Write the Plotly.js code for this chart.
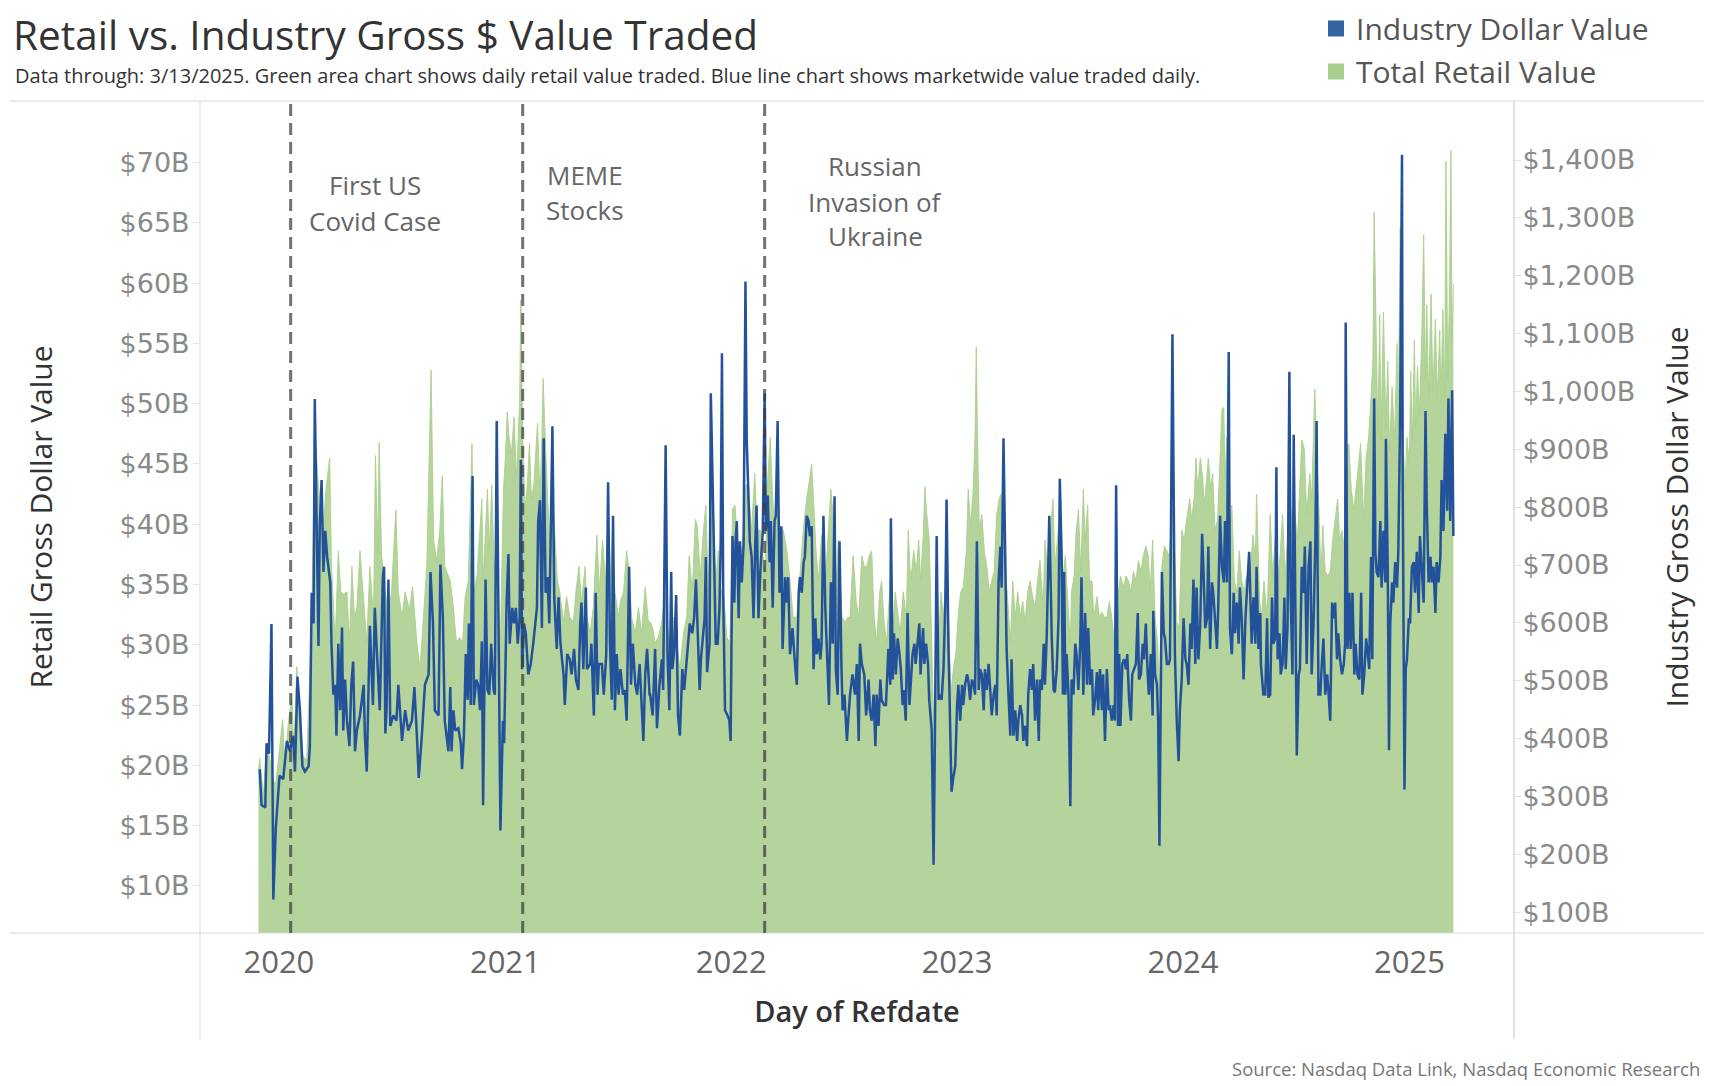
<!DOCTYPE html>
<html>
<head>
<meta charset="utf-8">
<script src="https://cdn.plot.ly/plotly-3.0.1.min.js"></script>
<style>
  html, body { margin: 0; padding: 0; background: #ffffff; }
  #chart { width: 1710px; height: 1086px; }
</style>
</head>
<body>
<div id="chart"></div>
<script>
// ---------------- DATA ----------------
// Day offsets are days since 2020-01-01; values in $ billions.
const DAY0 = Date.UTC(2020, 0, 1);

// Industry (marketwide) gross dollar value traded, $B  -> blue line, right axis
const industryDays = [
-31,-28,-22,-20,-16,-12,-9,-5,1,7,13,18,23,26,30,34,38,42,48,50,53,56,58,61,64,66,69,72,75,78,83,85,88,91,93,96,99,102,104,107,110,114,117,120,123,126,131,137,139,142,147,152,155,159,163,168,170,172,174,177,180,185,190,193,199,204,209,215,219,223,226,231,236,242,245,249,252,258,261,265,268,274,
277,279,282,285,290,294,296,299,302,305,307,310,313,315,319,322,325,328,330,334,337,340,343,347,349,352,355,358,362,364,368,371,373,377,380,383,386,389,391,393,396,399,403,407,411,414,417,419,422,425,428,431,434,437,440,442,445,449,452,455,460,462,466,470,473,477,480,484,487,489,492,496,498,503,505,509,512,515,517,522,525,529,532,535,538,540,543,546,549,552,556,559,562,566,569,572,576,579,583,586,589,592,595,599,
600,604,608,611,615,619,621,625,628,631,634,636,639,642,645,648,652,655,658,662,664,668,671,674,676,680,682,685,688,690,692,696,698,701,704,706,709,712,714,716,718,721,725,728,730,733,736,738,740,743,745,748,751,754,756,759,761,764,767,770,772,775,778,782,785,787,790,793,795,798,801,803,806,809,812,814,818,821,823,826,830,834,837,840,842,845,848,850,853,856,858,861,864,867,869,872,875,877,880,883,885,889,892,895,898,900,903,906,909,911,914,918,920,
923,927,931,934,937,939,942,946,949,953,955,958,961,964,966,969,972,974,978,981,985,988,989,992,994,997,1000,1003,1005,1008,1010,1013,1016,1019,1021,1024,1027,1029,1032,1035,1037,1041,1043,1046,1049,1051,1055,1058,1060,1063,1066,1069,1071,1074,1077,1079,1082,1085,1087,1090,1093,1096,1098,1101,1104,1106,1109,1112,1114,1117,1120,1123,1125,1128,1131,1133,1136,1139,1141,1144,1147,1149,1152,1155,1158,1160,1163,1166,1168,1171,1174,1176,1179,1182,1184,1187,1190,1193,1195,1198,1201,1203,1206,1209,1211,1214,1217,1219,1222,1225,1228,1230,1233,1236,1238,1241,1245,
1249,1252,1254,1257,1260,1262,1265,1267,1269,1271,1273,1276,1279,1281,1284,1287,1289,1292,1295,1297,1300,1303,1306,1308,1311,1314,1316,1319,1322,1324,1327,1330,1332,1335,1338,1341,1343,1346,1349,1351,1353,1356,1358,1360,1363,1366,1369,1371,1374,1377,1379,1382,1385,1388,1390,1393,1396,1398,1401,1404,1406,1409,1412,1413,1416,1419,1421,1423,1425,1427,1430,1432,1435,1438,1440,1444,1446,1448,1451,1454,1456,1459,1462,1465,1467,1470,1473,1475,1478,1481,1483,1486,1489,1492,1494,1497,1500,1502,1505,1508,1510,1513,1516,1518,1521,1524,1527,1529,1532,1535,1537,1540,1543,1545,1548,1551,1553,1556,1559,1562,1564,1568,
1572,1575,1578,1580,1583,1586,1587,1589,1591,1594,1597,1599,1602,1605,1607,1610,1612,1614,1617,1619,1622,1625,1627,1630,1633,1635,1638,1640,1643,1645,1648,1650,1653,1656,1658,1661,1664,1667,1669,1672,1675,1677,1680,1683,1685,1688,1691,1694,1696,1699,1702,1704,1707,1710,1712,1715,1718,1721,1723,1724,1727,1730,1732,1735,1738,1740,1743,1746,1749,1751,1754,1757,1759,1762,1765,1767,1770,1772,1774,1777,1780,1782,1785,1788,1789,1792,1794,1796,1799,1801,1804,1807,1809,1812,1815,1816,1819,1821,1823,1826,1828,1831,1834,1836,1839,1842,1844,1847,1850,1853,1855,1858,1861,1863,1866,1869,1871,1874,1877,1879,1882,1885,1888,1890,1893,1896,1898
];
const industryValues = [
347,285,281,392,374,598,122,246,336,330,396,378,405,343,507,449,352,343,352,387,652,599,987,767,560,767,847,688,759,714,670,564,476,493,405,564,449,592,414,502,431,387,493,533,378,414,440,493,405,343,595,458,626,537,449,679,697,409,449,675,422,440,431,493,396,449,414,431,489,405,332,405,493,511,688,599,449,440,701,608,431,378,
489,378,449,414,418,392,347,405,546,467,599,458,854,458,502,493,449,568,285,675,484,476,564,484,476,949,564,241,431,392,635,719,564,626,599,626,564,608,882,520,599,582,511,529,564,591,626,776,812,591,919,652,679,599,829,940,644,555,644,564,511,458,546,537,511,555,502,484,599,635,520,661,520,529,564,440,652,476,529,529,476,546,843,564,467,785,449,546,476,520,476,484,431,697,493,564,493,476,529,449,396,511,555,476,
476,440,555,418,493,537,484,907,546,449,688,520,555,648,440,405,520,484,520,564,599,582,608,675,599,484,537,573,608,714,515,564,997,838,652,564,564,626,741,1066,652,449,440,431,396,750,635,741,776,608,741,670,736,1190,918,794,741,714,608,741,803,608,688,759,997,759,820,705,776,626,776,785,949,652,767,555,679,635,679,546,591,529,493,652,679,652,705,714,785,776,750,767,520,608,546,573,537,564,785,626,564,458,670,564,819,520,476,741,529,449,476,396,431,
476,511,476,529,396,564,529,511,440,502,449,431,476,387,476,422,502,467,458,458,555,493,781,502,582,511,573,546,520,458,484,431,617,458,493,546,564,529,564,599,511,591,529,564,529,467,414,182,387,750,467,476,467,520,635,813,564,369,308,334,352,458,493,431,493,458,493,511,502,467,502,493,476,741,484,520,511,449,520,484,529,493,440,476,493,440,670,732,661,919,652,555,476,405,537,405,449,396,431,458,440,396,422,387,476,520,484,529,431,502,396,502,484,564,493,582,785,
573,484,480,520,608,849,714,476,688,476,546,476,283,502,476,564,546,484,564,679,476,617,493,591,493,520,440,467,515,449,520,449,511,396,520,449,458,431,458,431,838,422,546,422,529,537,520,546,467,431,511,520,529,617,502,511,564,537,599,511,476,546,440,621,511,493,431,215,431,688,582,573,529,529,537,1099,829,546,431,361,449,502,608,537,529,493,599,555,675,529,661,537,599,754,697,591,608,732,555,670,652,599,555,626,785,697,670,776,670,1068,591,546,652,582,635,564,661,608,502,608,644,723,
564,644,564,697,555,617,529,493,476,476,608,471,476,644,564,573,869,537,582,511,529,644,520,591,1034,652,511,925,564,371,511,520,697,652,732,529,697,741,511,599,741,949,476,476,520,573,476,511,484,431,635,608,635,537,582,537,511,529,564,1119,555,652,555,652,511,564,511,502,652,476,511,573,555,520,714,537,988,723,688,679,776,661,759,670,918,688,380,599,670,635,705,661,723,953,1409,874,312,520,537,608,599,697,705,652,723,617,750,697,635,966,803,670,714,670,697,617,705,670,714,847,759,927,794,988,776,1002,750
];

// Total retail gross dollar value traded, $B -> green area, left axis
const retailDays = [
-33,-31,-25,-20,-14,-9,-5,1,6,10,15,21,24,29,34,39,45,49,53,56,59,63,66,71,76,82,85,91,96,100,104,110,114,118,122,126,131,137,142,147,153,156,160,162,166,172,177,182,189,193,199,204,211,216,223,228,234,239,246,250,255,260,264,268,274,
277,282,287,292,297,301,306,312,315,320,324,328,330,334,337,340,344,348,352,357,363,366,369,372,376,380,384,389,391,394,398,401,405,408,412,418,422,425,427,431,434,438,442,446,450,454,460,465,470,476,480,485,489,495,498,503,508,514,518,523,528,532,535,539,543,549,552,557,562,566,570,576,581,586,592,597,
600,604,608,613,619,624,628,632,638,643,648,654,659,663,668,673,676,681,686,690,694,698,702,706,710,714,718,724,729,733,737,741,745,751,755,759,764,769,773,778,782,786,789,794,798,802,806,810,815,821,826,831,837,842,848,853,857,861,864,868,872,877,883,888,892,896,900,904,910,915,920,
923,928,933,937,942,946,950,954,958,962,966,971,974,978,982,988,992,996,1000,1004,1009,1014,1017,1021,1026,1030,1034,1037,1041,1044,1047,1051,1055,1058,1062,1066,1070,1074,1078,1082,1086,1090,1094,1098,1102,1106,1111,1114,1118,1122,1125,1127,1129,1132,1136,1140,1144,1148,1152,1156,1160,1164,1167,1170,1174,1177,1182,1186,1190,1194,1198,1202,1206,1210,1214,1218,1222,1226,1230,1235,1238,1244,
1246,1251,1254,1258,1262,1267,1271,1274,1279,1281,1285,1288,1292,1296,1300,1303,1307,1310,1314,1317,1322,1326,1330,1334,1338,1342,1346,1350,1353,1357,1360,1365,1369,1373,1377,1381,1385,1389,1393,1397,1401,1405,1408,1412,1416,1420,1423,1427,1431,1435,1439,1444,1447,1451,1455,1459,1463,1467,1472,1475,1479,1482,1485,1489,1493,1495,1498,1502,1506,1509,1513,1517,1521,1524,1527,1529,1532,1535,1537,1540,1544,1548,1552,1556,1560,1564,1568,
1574,1578,1580,1585,1588,1592,1597,1602,1606,1610,1614,1618,1622,1626,1630,1634,1639,1642,1646,1650,1653,1657,1661,1666,1669,1674,1677,1681,1684,1687,1691,1695,1699,1703,1707,1711,1714,1718,1722,1726,1729,1733,1737,1741,1745,1748,1753,1757,1761,1765,1768,1770,1773,1776,1779,1781,1785,1789,1792,1795,1799,1803,1807,1809,1812,1815,1817,1820,1823,1827,1829,1832,1835,1837,1840,1843,1847,1850,1853,1855,1858,1862,1865,1869,1872,1876,1878,1881,1884,1886,1889,1892,1894,1896,1898
];
const retailValues = [
19.5,20.6,17.4,21.6,20.4,18.7,18.5,21.6,23.8,19.9,23.4,25.9,21.2,28.2,23.8,20.8,20.4,26.3,32.3,40.8,47.2,43.8,42.1,38.7,42.9,45.5,36.5,30.2,37.8,34.4,34.2,34.4,30.2,36.5,32.3,33.1,37.8,33.6,30.2,36.5,32.3,45.7,37.8,46.8,37.4,34.4,32.3,34.4,41.2,34.4,32.3,34.4,32.9,34.8,30.2,28.0,32.3,36.5,52.8,38.7,37.0,39.5,44.0,36.5,35.7,
35.3,33.1,30.2,30.6,30.2,34.0,35.3,46.7,34.4,35.7,39.1,42.1,35.3,39.5,42.9,37.8,43.3,36.1,38.7,28.0,42.9,45.5,49.3,47.2,45.9,48.9,43.8,50.1,58.6,47.2,41.2,42.9,46.7,42.1,43.3,48.4,42.1,47.2,52.1,46.3,42.1,37.8,42.9,38.7,35.3,34.4,31.9,34.0,32.3,31.9,34.4,36.5,33.6,36.5,32.3,31.0,33.1,39.1,34.4,38.7,35.3,40.4,35.3,39.5,34.4,32.3,33.6,34.4,37.8,36.1,32.3,31.0,33.1,31.0,34.8,31.9,
31.9,31.4,30.2,30.6,31.9,34.4,31.4,30.2,32.3,30.2,28.0,31.0,32.3,37.4,34.4,40.4,39.9,35.7,39.5,41.6,34.4,42.9,41.2,35.3,37.8,34.4,34.8,30.6,30.2,41.2,41.6,38.7,36.5,39.5,43.3,42.9,39.5,44.2,39.5,39.5,37.8,35.7,42.9,47.2,42.1,39.5,42.9,37.4,39.5,37.8,35.3,32.3,32.3,35.7,39.9,42.1,43.8,45.0,42.1,37.8,35.3,39.1,35.3,39.5,42.9,40.4,34.4,38.7,32.3,31.9,32.3,
32.3,37.4,33.6,32.3,37.4,36.5,36.5,37.4,37.8,32.3,30.2,34.4,35.3,31.9,30.2,35.3,31.0,34.4,32.7,31.0,34.4,32.3,39.5,35.3,37.8,36.1,38.7,35.3,38.7,43.1,40.8,38.7,30.2,23.8,28.0,30.2,34.4,32.3,36.1,32.3,25.9,28.0,29.3,32.7,34.4,34.8,37.8,42.9,39.9,42.9,47.2,54.7,47.2,39.5,40.8,37.8,36.5,34.4,35.3,36.1,40.8,42.1,42.5,39.5,35.7,34.4,30.2,35.3,32.3,34.4,32.3,33.6,31.9,34.4,35.3,34.0,33.1,35.3,37.0,33.1,38.7,35.3,
38.7,42.1,36.5,38.7,40.8,35.7,37.4,34.4,30.2,34.4,35.7,39.1,41.2,36.1,42.9,38.7,41.6,35.3,35.3,32.3,34.0,32.3,32.7,32.3,32.3,33.6,32.3,30.2,34.8,34.4,35.7,34.8,35.7,35.3,34.4,36.1,35.3,37.0,36.1,37.4,38.2,37.4,34.4,38.7,32.3,30.2,25.9,36.5,38.2,37.8,37.4,41.2,38.7,31.9,31.4,39.5,38.7,40.4,42.1,40.4,42.1,45.5,42.9,45.5,43.8,41.6,42.9,45.5,42.9,44.2,39.5,40.4,46.3,49.5,49.7,43.8,47.2,42.9,39.9,41.6,35.3,34.4,37.8,35.3,34.4,35.7,34.4,
39.1,37.4,42.5,33.6,32.3,35.3,32.3,40.8,35.7,38.7,35.3,37.4,40.8,35.7,38.7,42.9,37.4,40.8,38.7,43.8,47.0,46.3,40.8,44.2,42.1,51.2,47.2,40.8,35.7,39.9,36.1,35.7,36.1,38.7,40.4,42.1,38.7,39.5,37.8,46.3,46.7,42.9,41.2,42.9,45.0,46.7,40.4,45.5,47.2,50.6,53.5,65.9,56.5,47.5,57.4,47.0,57.6,48.0,53.5,46.0,51.4,47.0,55.0,48.0,64.6,59.9,47.0,42.9,47.2,45.0,52.7,47.0,55.3,48.0,53.1,49.0,55.7,64.0,52.0,58.2,50.5,59.1,51.0,57.0,50.5,56.1,50.0,57.8,50.5,70.1,52.0,59.9,71.0,55.0,59.9
];

// Axis ticks
const yearTicks  = ['2020-01-01','2021-01-01','2022-01-01','2023-01-01','2024-01-01','2025-01-01'];
const yearLabels = ['2020','2021','2022','2023','2024','2025'];
const retailTicks   = [10,15,20,25,30,35,40,45,50,55,60,65,70];
const industryTicks = [100,200,300,400,500,600,700,800,900,1000,1100,1200,1300,1400];

// Events (reference lines)
const eventDates  = ['2020-01-20','2021-01-29','2022-02-24'];
const eventLabels = [['First US','Covid Case'],['MEME','Stocks'],['Russian','Invasion of','Ukraine']];

// Series names
const seriesNames = ['Industry Dollar Value','Total Retail Value'];

// ---------------- helpers ----------------
const toDate = d => new Date(DAY0 + d * 86400000).toISOString().slice(0, 10);
const money = v => '$' + v.toLocaleString('en-US') + 'B';
const W = 1710, H = 1086, ML = 200, MR = 196, MT = 101, MB = 153;
const PW = W - ML - MR, PH = H - MT - MB;
const xp = px => (px - ML) / PW;          // pixel -> paper x
const yp = py => (H - MB - py) / PH;      // pixel -> paper y

const BLUE = '#23529a', GREEN = '#b4d49b';
const BLUE_KEY = '#3564a3', GREEN_KEY = '#a9cf8e';

// ---------------- traces ----------------
const retailTrace = {
  type: 'scatter', mode: 'lines', name: seriesNames[1],
  x: retailDays.map(toDate), y: retailValues,
  fill: 'tozeroy', fillcolor: GREEN,
  line: { color: 'rgba(170,207,140,0.9)', width: 1 },
  xaxis: 'x', yaxis: 'y', showlegend: false, hoverinfo: 'x+y'
};
const industryTrace = {
  type: 'scatter', mode: 'lines', name: seriesNames[0],
  x: industryDays.map(toDate), y: industryValues,
  line: { color: BLUE, width: 2.5 },
  xaxis: 'x', yaxis: 'y2', showlegend: false, hoverinfo: 'x+y'
};
// legend keys (square swatches)
const keyIndustry = { type: 'scatter', mode: 'markers', name: seriesNames[0], x: [null], y: [null], legendgroup: 'a',
  marker: { symbol: 'square', size: 16, color: BLUE_KEY }, showlegend: true, hoverinfo: 'skip' };
const keyRetail = { type: 'scatter', mode: 'markers', name: seriesNames[1], x: [null], y: [null], legendgroup: 'b',
  marker: { symbol: 'square', size: 16, color: GREEN_KEY }, showlegend: true, hoverinfo: 'skip' };

// ---------------- layout ----------------
const borderColor = '#d9d9d9';
const shapes = [
  { type: 'line', xref: 'paper', yref: 'paper', x0: xp(9), x1: xp(1704), y0: yp(101), y1: yp(101), line: { color: borderColor, width: 1 } },
  { type: 'line', xref: 'paper', yref: 'paper', x0: xp(9), x1: xp(1704), y0: yp(933), y1: yp(933), line: { color: borderColor, width: 1 } },
  { type: 'line', xref: 'paper', yref: 'paper', x0: xp(200), x1: xp(200), y0: yp(1039), y1: yp(101), line: { color: borderColor, width: 1 } },
  { type: 'line', xref: 'paper', yref: 'paper', x0: xp(1514), x1: xp(1514), y0: yp(1039), y1: yp(101), line: { color: borderColor, width: 1.5 } }
];
eventDates.forEach(d => shapes.push({
  type: 'line', xref: 'x', yref: 'paper', x0: d, x1: d, y0: 0, y1: 1, layer: 'above',
  line: { color: 'rgba(60,60,60,0.72)', width: 3, dash: '12px,7px' }
}));

const labelCenters = [375, 585, 875];
const labelRows = [[185, 221], [174.5, 210.5], [166, 202, 236]];
const annotations = [];
eventLabels.forEach((lines, i) => lines.forEach((t, j) => annotations.push({
  text: t, xref: 'paper', yref: 'paper', x: xp(labelCenters[i]), y: yp(labelRows[i][j]),
  xanchor: 'center', yanchor: 'middle', showarrow: false,
  font: { family: 'Open Sans, sans-serif', size: 26, color: '#666666' }
})));
annotations.push({
  text: 'Data through: 3/13/2025. Green area chart shows daily retail value traded. Blue line chart shows marketwide value traded daily.',
  xref: 'paper', yref: 'paper', x: xp(13), y: yp(75), xanchor: 'left', yanchor: 'middle', showarrow: false,
  font: { family: 'Open Sans, sans-serif', size: 20, color: '#333333' }
});
annotations.push({
  text: 'Source: Nasdaq Data Link, Nasdaq Economic Research',
  xref: 'paper', yref: 'paper', x: xp(1702), y: yp(1068), xanchor: 'right', yanchor: 'middle', showarrow: false,
  font: { family: 'Open Sans, sans-serif', size: 18.5, color: '#777777' }
});

const tickFont = { family: 'DejaVu Sans, sans-serif', size: 27, color: '#8a8a8a' };

const layout = {
  width: W, height: H,
  margin: { l: ML, r: MR, t: MT, b: MB, pad: 0, autoexpand: false },
  paper_bgcolor: '#ffffff', plot_bgcolor: '#ffffff',
  font: { family: 'Open Sans, sans-serif', color: '#555555' },
  title: {
    text: 'Retail vs. Industry Gross $ Value Traded',
    xref: 'container', yref: 'container', x: 13 / W, y: 1 - 36 / H,
    xanchor: 'left', yanchor: 'middle',
    font: { family: 'Open Sans, sans-serif', size: 40.5, weight: 400, color: '#333333' }
  },
  showlegend: true,
  legend: {
    x: xp(1316), y: yp(2.5), xanchor: 'left', yanchor: 'top', orientation: 'v',
    font: { family: 'Open Sans, sans-serif', size: 30, color: '#555555' },
    bgcolor: 'rgba(0,0,0,0)', traceorder: 'grouped', tracegroupgap: 1
  },
  xaxis: {
    type: 'date', range: ['2019-08-26 12:00', '2025-06-19'],
    tickmode: 'array', tickvals: yearTicks, ticktext: yearLabels,
    showgrid: false, zeroline: false, showline: false, ticks: '',
    tickfont: { family: 'Open Sans, sans-serif', size: 31, color: '#666666' },
    ticklabelstandoff: 8,
    title: { text: 'Day of Refdate', standoff: 20, font: { family: 'Open Sans, sans-serif', size: 29, weight: 600, color: '#333333' } }
  },
  yaxis: {
    range: [6.1, 75.1], tickmode: 'array', tickvals: retailTicks, ticktext: retailTicks.map(money),
    showgrid: false, zeroline: false, showline: false,
    ticks: 'outside', ticklen: 6, tickcolor: '#e3e3e3', tickwidth: 1,
    tickfont: tickFont, ticklabelstandoff: -2,
    title: { text: 'Retail Gross Dollar Value', standoff: 58, font: { family: 'Open Sans, sans-serif', size: 30, color: '#333333' } }
  },
  yaxis2: {
    overlaying: 'y', side: 'right', anchor: 'x',
    range: [64, 1502], tickmode: 'array', tickvals: industryTicks, ticktext: industryTicks.map(money),
    showgrid: false, zeroline: false, showline: false,
    ticks: 'outside', ticklen: 6, tickcolor: '#e3e3e3', tickwidth: 1,
    tickfont: tickFont, ticklabelstandoff: -4,
    title: { text: 'Industry Gross Dollar Value', standoff: 32, font: { family: 'Open Sans, sans-serif', size: 30, color: '#333333' } }
  },
  shapes: shapes,
  annotations: annotations
};

Plotly.newPlot('chart', [retailTrace, industryTrace, keyIndustry, keyRetail], layout, { displayModeBar: false, staticPlot: true });
</script>
</body>
</html>
